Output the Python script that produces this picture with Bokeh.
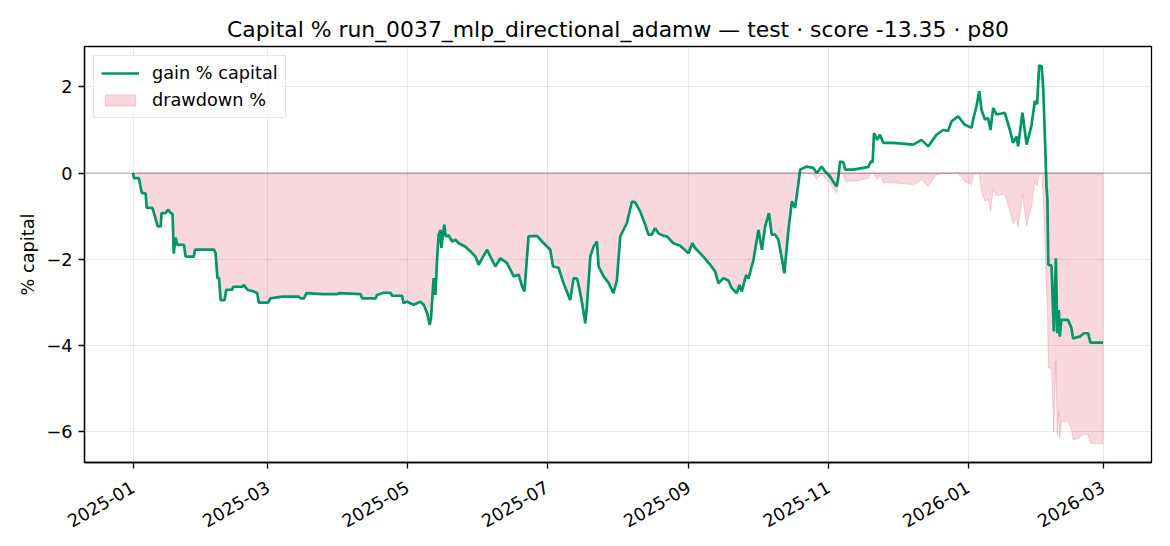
import math
import numpy as np
import pandas as pd
from bokeh.plotting import figure
from bokeh.models import (Range1d, FixedTicker, Legend, LegendItem, Span,
                          DatetimeTickFormatter)
from bokeh.embed import file_html
from bokeh.resources import INLINE

# ---------------- data ----------------
title_text = "Capital % run_0037_mlp_directional_adamw — test · score -13.35 · p80"
start_date = "2025-01-01"

# days since start_date
day_offset = [
    0.0, 0.4, 2.6, 3.8, 5.5, 6.0, 8.5, 10.8, 12.1, 12.5,
    14.3, 15.3, 16.5, 17.3, 17.8, 18.6, 19.4, 22.3, 23.0, 26.6,
    27.1, 35.4, 36.1, 36.9, 37.6, 38.3, 40.0, 40.8, 43.4, 43.8,
    47.8, 48.5, 50.0, 52.8, 54.3, 55.0, 59.1, 60.1, 65.2, 72.5,
    73.2, 74.7, 75.9, 82.7, 89.3, 90.0, 99.4, 100.2, 106.0, 106.7,
    109.6, 112.5, 113.3, 117.6, 118.3, 119.8, 122.7, 125.6, 127.1, 128.6,
    129.7, 130.3, 131.4, 132.2, 132.9, 133.6, 134.4, 134.8, 135.5, 136.1,
    136.7, 138.0, 139.5, 140.9, 142.4, 145.3, 147.5, 149.7, 151.1, 152.6,
    154.8, 156.2, 158.4, 160.6, 163.5, 166.4, 168.6, 170.1, 171.1, 171.6,
    172.9, 176.6, 179.5, 182.4, 183.6, 186.0, 188.2, 191.1, 192.6, 194.1,
    195.2, 196.3, 197.7, 198.4, 199.9, 201.3, 202.8, 203.5, 205.7, 207.9,
    210.0, 211.5, 213.0, 215.9, 218.1, 219.5, 221.7, 223.9, 225.3, 226.8,
    228.2, 229.7, 231.9, 233.4, 236.2, 239.2, 242.8, 244.5, 245.7, 249.3,
    252.3, 254.5, 255.9, 258.1, 260.3, 261.7, 263.9, 265.1, 266.1, 268.0,
    269.0, 271.2, 273.4, 274.9, 276.3, 278.0, 279.2, 280.7, 282.1, 283.6,
    284.7, 286.5, 288.0, 289.4, 290.8, 291.6, 294.5, 297.4, 298.9, 301.0,
    302.5, 304.7, 306.1, 307.6, 308.3, 309.1, 310.5, 311.3, 314.8, 319.2,
    321.4, 322.5, 323.3, 323.9, 325.3, 326.5, 328.0, 332.3, 341.0, 344.7,
    347.6, 351.2, 354.1, 356.3, 357.8, 360.7, 363.6, 366.5, 367.2, 368.7,
    369.9, 370.9, 372.4, 373.8, 374.8, 376.0, 377.5, 381.1, 383.3, 384.7,
    386.2, 386.9, 388.8, 390.6, 392.7, 394.2, 395.2, 396.1, 397.2, 397.9,
    398.6, 399.3, 399.7, 400.1, 401.5, 402.5, 403.4, 404.0, 404.7, 405.1,
    405.8, 408.7, 410.2, 410.9, 413.8, 415.6, 417.5, 418.5, 424.0,
]

gain_pct = [
    0.0, -0.12, -0.12, -0.46, -0.47, -0.81, -0.81, -1.24, -1.24, -0.93,
    -0.93, -0.85, -0.93, -0.95, -1.87, -1.5, -1.67, -1.67, -1.94, -1.94,
    -1.78, -1.78, -1.86, -2.44, -2.44, -2.95, -2.95, -2.71, -2.71, -2.64,
    -2.64, -2.6, -2.71, -2.75, -2.79, -3.01, -3.01, -2.91, -2.87, -2.87,
    -2.91, -2.91, -2.79, -2.81, -2.81, -2.79, -2.81, -2.91, -2.91, -2.83,
    -2.78, -2.78, -2.85, -2.85, -3.02, -2.99, -3.06, -2.99, -3.06, -3.26,
    -3.53, -3.35, -2.44, -2.83, -2.02, -1.43, -1.32, -1.74, -1.4, -1.2,
    -1.47, -1.45, -1.59, -1.55, -1.63, -1.71, -1.82, -1.94, -2.13, -1.98,
    -1.78, -1.94, -2.17, -1.98, -2.09, -2.4, -2.36, -2.64, -2.75, -2.4,
    -1.47, -1.46, -1.63, -1.78, -2.17, -2.2, -2.56, -2.95, -2.44, -2.45,
    -2.71, -3.02, -3.49, -3.1, -1.94, -1.71, -1.59, -2.17, -2.4, -2.55,
    -2.79, -2.5, -1.47, -1.16, -0.66, -0.68, -0.89, -1.2, -1.43, -1.43,
    -1.28, -1.4, -1.46, -1.47, -1.63, -1.69, -1.86, -1.63, -1.74, -1.94,
    -2.13, -2.29, -2.56, -2.44, -2.5, -2.67, -2.79, -2.6, -2.75, -2.37,
    -2.45, -2.02, -1.32, -1.78, -1.24, -0.93, -1.43, -1.43, -1.55, -1.98,
    -2.33, -1.32, -0.66, -0.81, -0.27, 0.08, 0.15, 0.12, 0.0, 0.15,
    0.04, -0.08, -0.2, -0.31, -0.1, 0.27, 0.25, 0.08, 0.08, 0.12,
    0.14, 0.27, 0.25, 0.93, 0.77, 0.89, 0.7, 0.7, 0.66, 0.77,
    0.62, 0.89, 1.0, 0.98, 1.2, 1.32, 1.12, 1.05, 1.24, 1.55,
    1.9, 1.47, 1.24, 1.28, 1.0, 1.51, 1.36, 1.4, 1.0, 0.7,
    0.85, 0.62, 1.4, 0.66, 1.09, 1.67, 1.6, 2.5, 2.48, 1.94,
    0.85, -0.31, -0.62, -2.13, -2.15, -3.68, -1.98, -3.72, -3.18, -3.8,
    -3.41, -3.41, -3.6, -3.84, -3.8, -3.72, -3.72, -3.94, -3.94,
]

y_ticks = [-6, -4, -2, 0, 2]
x_tick_labels = ["2025-01", "2025-03", "2025-05", "2025-07",
                 "2025-09", "2025-11", "2026-01", "2026-03"]

series_labels = ["gain % capital", "drawdown %"]

# ---------------- derived ----------------
n = min(len(day_offset), len(gain_pct))
days = np.array(day_offset[:n], dtype=float)
g = np.array(gain_pct[:n], dtype=float)
t = pd.Timestamp(start_date) + pd.to_timedelta(days, unit="D")
x_ms = t.values.astype("datetime64[ms]").astype("int64").astype(float)

# drawdown of capital from its running peak (in %)
peak = np.maximum.accumulate(np.concatenate(([0.0], g)))[1:]
dd = ((100.0 + g) / (100.0 + peak) - 1.0) * 100.0

x_span = x_ms.max() - x_ms.min()
y_lo = min(dd.min(), g.min())
y_hi = max(dd.max(), g.max(), 0.0)
y_span = y_hi - y_lo

FONT = "DejaVu Sans"
GREEN = "#00966A"
PINK = "crimson"
FS = "17.7px"

p = figure(width=1162, height=538, x_axis_type="datetime",
           output_backend="svg", toolbar_location=None,
           x_range=Range1d(x_ms.min() - 0.05 * x_span, x_ms.max() + 0.05 * x_span),
           y_range=Range1d(y_lo - 0.05 * y_span, y_hi + 0.05 * y_span),
           min_border_left=84, min_border_right=11,
           min_border_top=46, min_border_bottom=76)

p.title.text = title_text
p.title.text_font = FONT
p.title.text_font_size = "21.9px"
p.title.text_font_style = "normal"
p.title.text_color = "black"
p.title.align = "center"

# drawdown area (polygon between 0 and drawdown)
px = np.concatenate((x_ms, x_ms[::-1]))
py = np.concatenate((dd, np.zeros_like(dd)))
area = p.patch(px, py, fill_color=PINK, fill_alpha=0.17,
               line_color=PINK, line_alpha=0.17, line_width=1)

line = p.line(x_ms, g, line_color=GREEN, line_width=2.7)

zero = Span(location=0, dimension="width", line_color="black",
            line_alpha=0.3, line_width=1)
p.add_layout(zero)

# axes
tick_ms = [float(pd.Timestamp(l + "-01").value // 10**6) for l in x_tick_labels]
p.xaxis.ticker = FixedTicker(ticks=tick_ms)
fmt = "%Y-%m"
p.xaxis.formatter = DatetimeTickFormatter(years=fmt, months=fmt, days=fmt,
                                          hours=fmt, minutes=fmt)
p.xaxis.major_label_orientation = math.pi / 6
p.yaxis.ticker = FixedTicker(ticks=y_ticks)
p.yaxis.major_label_overrides = {v: (str(v).replace("-", "\u2212")) for v in y_ticks}
p.yaxis.axis_label = "% capital"

for ax in (p.xaxis, p.yaxis):
    ax.axis_line_color = "black"
    ax.axis_line_width = 1.3
    ax.major_tick_line_color = "black"
    ax.major_tick_line_width = 1.3
    ax.major_tick_out = 6
    ax.major_tick_in = 0
    ax.minor_tick_out = 0
    ax.minor_tick_in = 0
    ax.major_label_text_font = FONT
    ax.major_label_text_font_size = FS
    ax.major_label_text_color = "black"
    ax.major_label_standoff = 6
    ax.axis_label_text_font = FONT
    ax.axis_label_text_font_size = FS
    ax.axis_label_text_font_style = "normal"
    ax.axis_label_text_color = "black"
p.xaxis.major_label_standoff = 17
p.yaxis.axis_label_standoff = 5

p.outline_line_color = "black"
p.outline_line_width = 1.3
p.outline_line_alpha = 1.0

for gr in (p.xgrid, p.ygrid):
    gr.grid_line_color = "#b0b0b0"
    gr.grid_line_alpha = 0.3
    gr.grid_line_width = 1

legend = Legend(items=[LegendItem(label=series_labels[0], renderers=[line]),
                       LegendItem(label=series_labels[1], renderers=[area])],
                location="top_left", margin=9, padding=7, spacing=7,
                glyph_width=38, glyph_height=14, label_standoff=13,
                label_text_font=FONT, label_text_font_size=FS,
                label_text_color="black",
                border_line_color="#cccccc", border_line_width=1,
                background_fill_alpha=0.8)
p.add_layout(legend)

open("out.html", "w").write(file_html(p, INLINE))
